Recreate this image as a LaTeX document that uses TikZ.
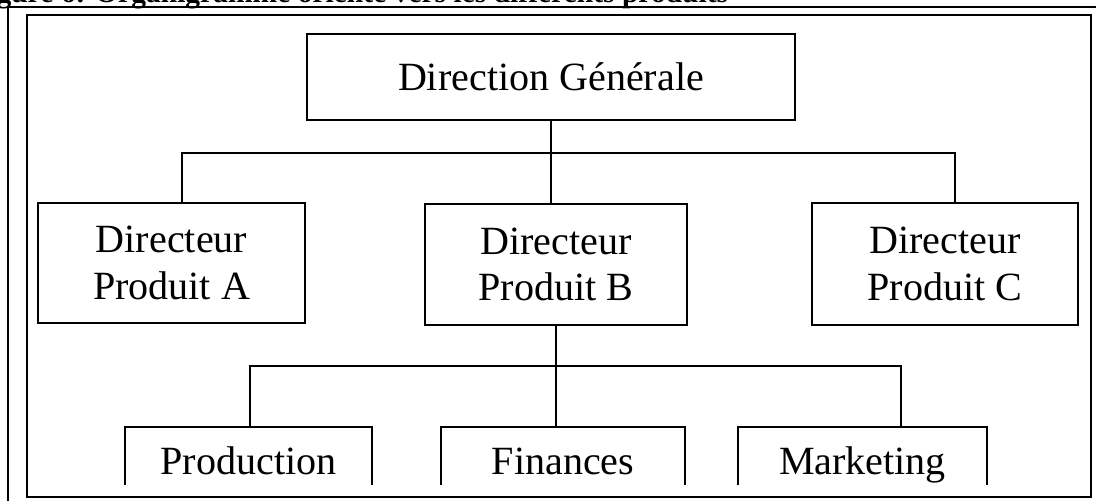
\documentclass[tikz,border=0pt]{standalone}
\usepackage{fontspec}
\setmainfont{Liberation Serif}
\usepackage{tikz}
\usetikzlibrary{positioning}

\begin{document}
\begin{tikzpicture}[x=0.025cm, y=-0.025cm,
    poste/.style = {draw, line width=1.6pt, align=center, inner sep=0pt,
      font=\fontsize{28.5}{33}\selectfont},
    service/.style = {align=center, inner sep=0pt, minimum height=1.45cm,
      text height=0.9cm, text depth=0cm, font=\fontsize{28.5}{33}\selectfont},
    trait/.style = {line width=1.4pt}]
    \clip (0,0) rectangle (1096,500);
    \node[anchor=base west, inner sep=0pt, font=\bfseries\fontsize{21}{25}\selectfont] (titre) at (-30,2.5) {Figure 6: Organigramme orienté vers les différents produits};
    \draw[line width=1.5pt] (8,7) rectangle (1110,520);
    \draw[line width=1.1pt] (27,15) rectangle (1091,497);

    % direction et directeurs produit
    \node[poste, minimum width=12.2cm, minimum height=2.15cm] (dg) at (551,77) {Direction Générale};
    \node[poste, minimum width=6.675cm, minimum height=3cm] (dpa) at (171.5,263) {Directeur\\Produit A};
    \node[poste, minimum width=6.55cm, minimum height=3.025cm] (dpb) at (556,264.5) {Directeur\\Produit B};
    \node[poste, minimum width=6.65cm, minimum height=3.05cm] (dpc) at (945,264) {Directeur\\Produit C};

    % services du produit B
    \node[service, minimum width=6.175cm] (prod) at (248.5,456) {Production};
    \node[service, minimum width=6.1cm] (fin) at (563,456) {Finances};
    \node[service, minimum width=6.225cm] (mkt) at (862.5,456) {Marketing};
    \foreach \s in {prod, fin, mkt}
      \draw[line width=1.6pt] (\s.south west) |- (\s.north east) -- (\s.south east);

    \coordinate (busA) at (182,153);
    \coordinate (busC) at (955,153);
    \draw[trait] (dg.south) -- (dg.south |- busA);
    \draw[trait] (busA |- dpa.north) |- (busC) -- (busC |- dpc.north);
    \draw[trait] (dg.south |- busA) -- (dg.south |- dpb.north);

    \coordinate (busP) at (250,366);
    \coordinate (busM) at (901,366);
    \draw[trait] (dpb.south) -- (dpb.south |- fin.north);
    \draw[trait] (busP |- prod.north) |- (busM) -- (busM |- mkt.north);
\end{tikzpicture}
\end{document}
